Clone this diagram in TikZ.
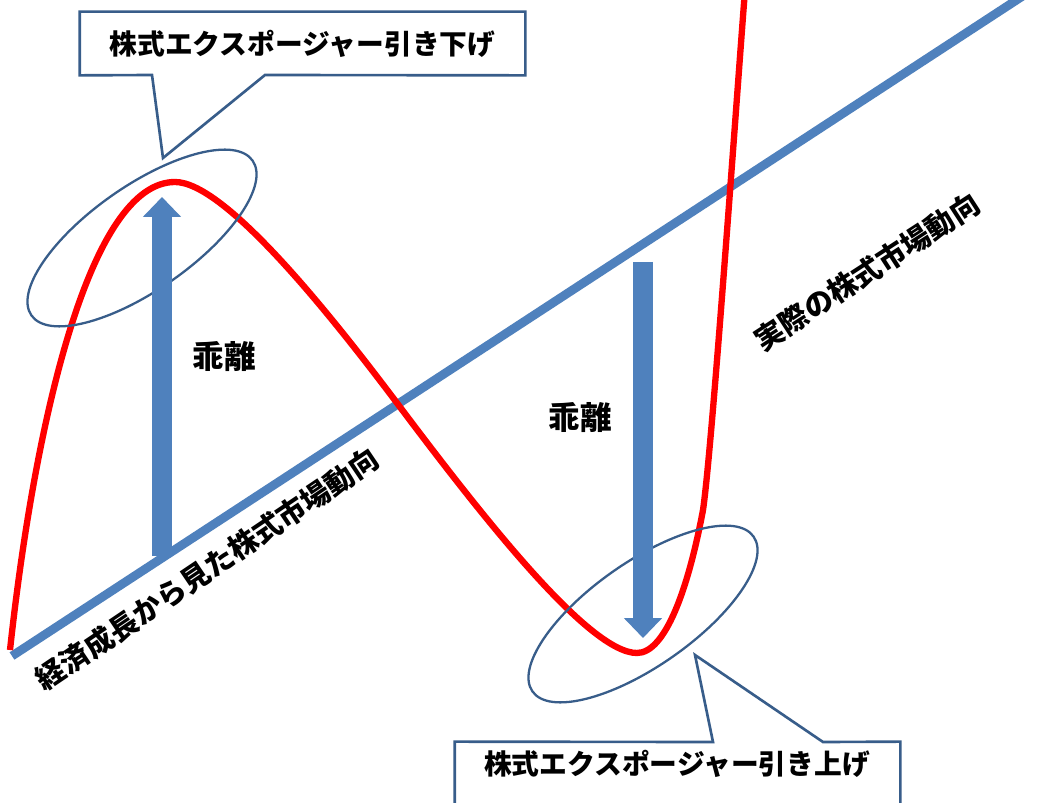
\documentclass[tikz,border=0pt]{standalone}
\usepackage{fontspec}
\usepackage{xcolor}
\usetikzlibrary{arrows.meta,shapes.geometric,positioning}
\newfontfamily\jpfont{Noto Sans CJK JP}
\definecolor{trend}{RGB}{79,129,189}
\definecolor{frame}{RGB}{56,93,138}
\definecolor{market}{RGB}{255,0,0}
\newcommand{\jpsize}[1]{\jpfont\bfseries\fontsize{#1}{#1}\selectfont}

\tikzset{
  gaparrow/.style={draw=trend, line width=11.3pt, -{Triangle[width=21pt,length=11.3pt]}},
  focus/.style={ellipse, draw=frame, line width=1.3pt, minimum width=5.4cm, minimum height=2.08cm, inner sep=0pt},
  calloutbox/.style={fill=white, minimum width=8.9cm, minimum height=1.26cm, inner sep=0pt},
  calloutline/.style={draw=frame, fill=white, line width=1.5pt, line join=miter},
  jplabel/.style={font=\jpsize{16.5pt}, inner sep=0pt},
}

\begin{document}
\begin{tikzpicture}[x=0.02cm, y=-0.02cm]
  \fill[white] (0,0) rectangle (1053,803);
  \useasboundingbox (0,0) rectangle (1053,803);

  % trend from economic growth
  \coordinate (base) at (12,656);
  \coordinate (far) at (1035,-12);
  \draw[trend, line width=5pt] (base) -- (far);

  % actual market
  \coordinate (start) at (10,650);
  \coordinate (top) at (175,182);
  \coordinate (cross) at (397,403);
  \coordinate (bottom) at (637,653);
  \coordinate (climb) at (703,510);
  \coordinate (exit) at (745,-10);
  \draw[market, line width=3.6pt, line join=round]
    (start) .. controls (35,420) and (90,182) .. (top)
    .. controls (225,182) and (330,314) .. (cross)
    .. controls (487,523) and (590,653) .. (bottom)
    .. controls (665,653) and (688,590) .. (climb)
    .. controls (712,448) and (735,120) .. (exit);

  \node[focus, rotate=35] (peak) at (142,238) {};
  \node[focus, rotate=35] (trough) at (643,614) {};

  % deviation arrows
  \coordinate (upfoot) at (162,556);
  \coordinate (uptip) at (162,197);
  \coordinate (dnfoot) at (643,262);
  \coordinate (dntip) at (643,638);
  \draw[gaparrow] (upfoot) -- (uptip);
  \draw[gaparrow] (dnfoot) -- (dntip);
  \node[font=\jpsize{18pt}] (gapup) at (224,357) {乖離};
  \node[font=\jpsize{18pt}] (gapdn) at (580,418) {乖離};

  % callouts
  \node[calloutbox] (boxup) at (302.5,43.5) {};
  \coordinate (pu1) at (152,75);
  \coordinate (pu2) at (265,75);
  \coordinate (tipup) at (163,158);
  \draw[calloutline] (boxup.south west) -- (boxup.north west) -- (boxup.north east)
    -- (boxup.south east) -- (pu2) -- (tipup) -- (pu1) -- cycle;
  \node[font=\jpsize{15.8pt}] (txtup) at (boxup.center) {株式エクスポージャー引き下げ};

  \node[calloutbox] (boxlow) at (677.5,773.5) {};
  \coordinate (pl1) at (713,742);
  \coordinate (pl2) at (823,742);
  \coordinate (tiplow) at (695,655);
  \draw[calloutline] (boxlow.north west) -- (pl1) -- (tiplow) -- (pl2)
    -- (boxlow.north east) -- (boxlow.south east) -- (boxlow.south west) -- cycle;
  \node[font=\jpsize{15.8pt}] (txtlow) at (677,764) {株式エクスポージャー引き上げ};

  % line labels
  \node[jplabel, rotate=34] (growth) at (207,569) {経済成長から見た株式市場動向};
  \node[jplabel, rotate=33] (actual) at (867,272) {実際の株式市場動向};
\end{tikzpicture}
\end{document}
